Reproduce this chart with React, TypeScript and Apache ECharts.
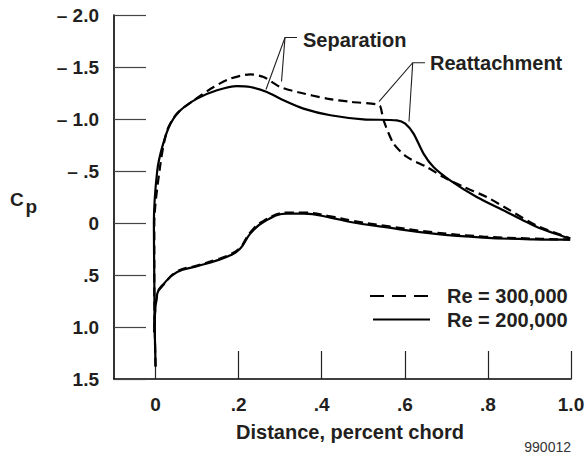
import React, { useEffect, useRef } from 'react';
import * as echarts from 'echarts';

// Axis ticks / labels
const xTickValues = [0, 0.2, 0.4, 0.6, 0.8, 1.0];
const xTickLabels = ['0', '.2', '.4', '.6', '.8', '1.0'];
const yTickValues = [-2, -1.5, -1, -0.5, 0, 0.5, 1, 1.5];
const yTickLabels = ['\u2013 2.0', '\u2013 1.5', '\u2013 1.0', '\u2013 .5', '0', '.5', '1.0', '1.5'];

// Upper surface, Re = 200,000 (solid)
const upper200X = [0, -0.002, -0.003, -0.004, 0.004, 0.016, 0.036, 0.06, 0.1, 0.148, 0.196, 0.228, 0.268, 0.308, 0.356, 0.421, 0.5, 0.581, 0.601, 0.621, 0.645, 0.669, 0.709, 0.773, 0.837, 0.918, 0.998];
const upper200Cp = [1.38, 1.0, 0.55, 0.0, -0.5, -0.73, -0.956, -1.084, -1.196, -1.276, -1.317, -1.308, -1.26, -1.18, -1.1, -1.036, -0.997, -0.987, -0.956, -0.86, -0.667, -0.538, -0.41, -0.25, -0.122, 0.038, 0.15];

// Upper surface, Re = 300,000 (dashed)
const upper300X = [0, -0.002, -0.003, -0.003, 0.012, 0.028, 0.052, 0.092, 0.14, 0.18, 0.228, 0.26, 0.3, 0.341, 0.413, 0.47, 0.533, 0.541, 0.549, 0.573, 0.605, 0.653, 0.693, 0.742, 0.797, 0.853, 0.916, 0.998];
const upper300Cp = [1.38, 1.0, 0.55, 0.0, -0.574, -0.891, -1.055, -1.18, -1.308, -1.388, -1.43, -1.404, -1.308, -1.26, -1.196, -1.165, -1.141, -1.122, -0.987, -0.763, -0.635, -0.538, -0.442, -0.346, -0.25, -0.122, 0.022, 0.147];

// Lower surface, Re = 200,000 (solid)
const lower200X = [-0.003, 0.004, 0.02, 0.052, 0.1, 0.148, 0.18, 0.204, 0.228, 0.26, 0.317, 0.357, 0.421, 0.469, 0.549, 0.669, 0.789, 0.909, 0.998];
const lower200Cp = [1.05, 0.68, 0.583, 0.471, 0.416, 0.359, 0.311, 0.246, 0.102, -0.01, -0.09, -0.09, -0.052, -0.01, 0.038, 0.102, 0.14, 0.157, 0.16];

// Lower surface, Re = 300,000 (dashed)
const lower300X = [-0.003, 0.004, 0.02, 0.052, 0.1, 0.148, 0.18, 0.204, 0.228, 0.26, 0.317, 0.357, 0.421, 0.469, 0.549, 0.669, 0.789, 0.909, 0.998];
const lower300Cp = [1.05, 0.69, 0.59, 0.465, 0.41, 0.35, 0.3, 0.235, 0.09, -0.02, -0.1, -0.1, -0.065, -0.025, 0.025, 0.09, 0.13, 0.15, 0.16];

const FONT = "'Liberation Sans', Arial, Helvetica, sans-serif";
const INK = '#231f20';

const pairs = (xs: number[], ys: number[]) => xs.map((x, i) => [x, ys[i]]);
const lookup = (vals: number[], labels: string[], v: number) => {
  const i = vals.findIndex((t) => Math.abs(t - v) < 1e-6);
  return i >= 0 ? labels[i] : '';
};

export default function App() {
  const ref = useRef<HTMLDivElement>(null);
  useEffect(() => {
    const chart = echarts.init(ref.current!, null, { renderer: 'svg' });
    const lineBase = { type: 'line', symbol: 'none', smooth: 0.25, z: 3 };
    chart.setOption({
      animation: false,
      backgroundColor: '#ffffff',
      grid: { left: 114, top: 15, width: 457, height: 364, outerBoundsMode: 'none' },
      xAxis: {
        type: 'value',
        min: -0.1,
        max: 1.0,
        axisLine: { show: true, onZero: false, lineStyle: { color: '#000', width: 1.6 } },
        axisTick: { show: true, inside: true, length: 28, customValues: xTickValues, lineStyle: { color: '#222', width: 1.2 } },
        axisLabel: {
          customValues: xTickValues,
          margin: 16,
          color: INK,
          fontFamily: FONT,
          fontWeight: 'bold',
          fontSize: 19,
          formatter: (v: number) => lookup(xTickValues, xTickLabels, v),
        },
        splitLine: { show: false },
      },
      yAxis: {
        type: 'value',
        inverse: true,
        min: -2,
        max: 1.5,
        interval: 0.5,
        axisLine: { show: true, onZero: false, lineStyle: { color: '#000', width: 1.6 } },
        axisTick: { show: true, inside: true, length: 32, lineStyle: { color: '#444', width: 1.2 } },
        axisLabel: {
          margin: 15,
          color: INK,
          fontFamily: FONT,
          fontWeight: 'bold',
          fontSize: 19,
          showMinLabel: true,
          showMaxLabel: true,
          formatter: (v: number) => lookup(yTickValues, yTickLabels, v),
        },
        splitLine: { show: false },
      },
      series: [
        { ...lineBase, name: 'Re = 300,000 upper', data: pairs(upper300X, upper300Cp), lineStyle: { color: '#000', width: 2.2, type: [9, 5] } },
        { ...lineBase, smooth: 0.45, name: 'Re = 300,000 lower', data: pairs(lower300X, lower300Cp), lineStyle: { color: '#000', width: 2.2, type: [9, 5] } },
        { ...lineBase, name: 'Re = 200,000 upper', data: pairs(upper200X, upper200Cp), lineStyle: { color: '#000', width: 2.2 } },
        { ...lineBase, smooth: 0.45, name: 'Re = 200,000 lower', data: pairs(lower200X, lower200Cp), lineStyle: { color: '#000', width: 2.2 } },
      ],
      graphic: [
        // Cp axis name
        { type: 'text', x: 10, y: 199, style: { text: 'C', font: `bold 19px ${FONT}`, fill: INK, verticalAlign: 'middle' } },
        { type: 'text', x: 25.5, y: 206, style: { text: 'p', font: `bold 19px ${FONT}`, fill: INK, verticalAlign: 'middle' } },
        // x axis title
        { type: 'text', x: 350, y: 432, style: { text: 'Distance, percent chord', font: `bold 20px ${FONT}`, fill: INK, align: 'center', verticalAlign: 'middle' } },
        { type: 'text', x: 571, y: 447, style: { text: '990012', font: `14px ${FONT}`, fill: '#333', align: 'right', verticalAlign: 'middle' } },
        // Separation annotation
        { type: 'polyline', shape: { points: [[297, 37.5], [285, 37.5], [266, 89.5]] }, style: { stroke: INK, lineWidth: 1.1, fill: 'none' } },
        { type: 'line', shape: { x1: 285, y1: 37.5, x2: 281.5, y2: 81.5 }, style: { stroke: INK, lineWidth: 1.1 } },
        { type: 'text', x: 303, y: 40, style: { text: 'Separation', font: `bold 20px ${FONT}`, fill: INK, verticalAlign: 'middle' } },
        // Reattachment annotation
        { type: 'polyline', shape: { points: [[425, 62.7], [412.7, 62.7], [379, 101.7]] }, style: { stroke: INK, lineWidth: 1.1, fill: 'none' } },
        { type: 'line', shape: { x1: 412.7, y1: 62.7, x2: 409, y2: 121.5 }, style: { stroke: INK, lineWidth: 1.1 } },
        { type: 'text', x: 430, y: 63, style: { text: 'Reattachment', font: `bold 20px ${FONT}`, fill: INK, verticalAlign: 'middle' } },
        // Legend
        { type: 'line', shape: { x1: 370, y1: 296, x2: 428, y2: 296 }, style: { stroke: '#000', lineWidth: 2.2, lineDash: [14, 8] } },
        { type: 'text', x: 447, y: 296, style: { text: 'Re = 300,000', font: `bold 20px ${FONT}`, fill: INK, verticalAlign: 'middle' } },
        { type: 'line', shape: { x1: 373, y1: 319.5, x2: 430, y2: 319.5 }, style: { stroke: '#000', lineWidth: 2.2 } },
        { type: 'text', x: 447, y: 319.5, style: { text: 'Re = 200,000', font: `bold 20px ${FONT}`, fill: INK, verticalAlign: 'middle' } },
      ],
    });
    return () => chart.dispose();
  }, []);
  return <div ref={ref} style={{ position: 'absolute', left: 0, top: 0, width: 586, height: 457 }} />;
}
